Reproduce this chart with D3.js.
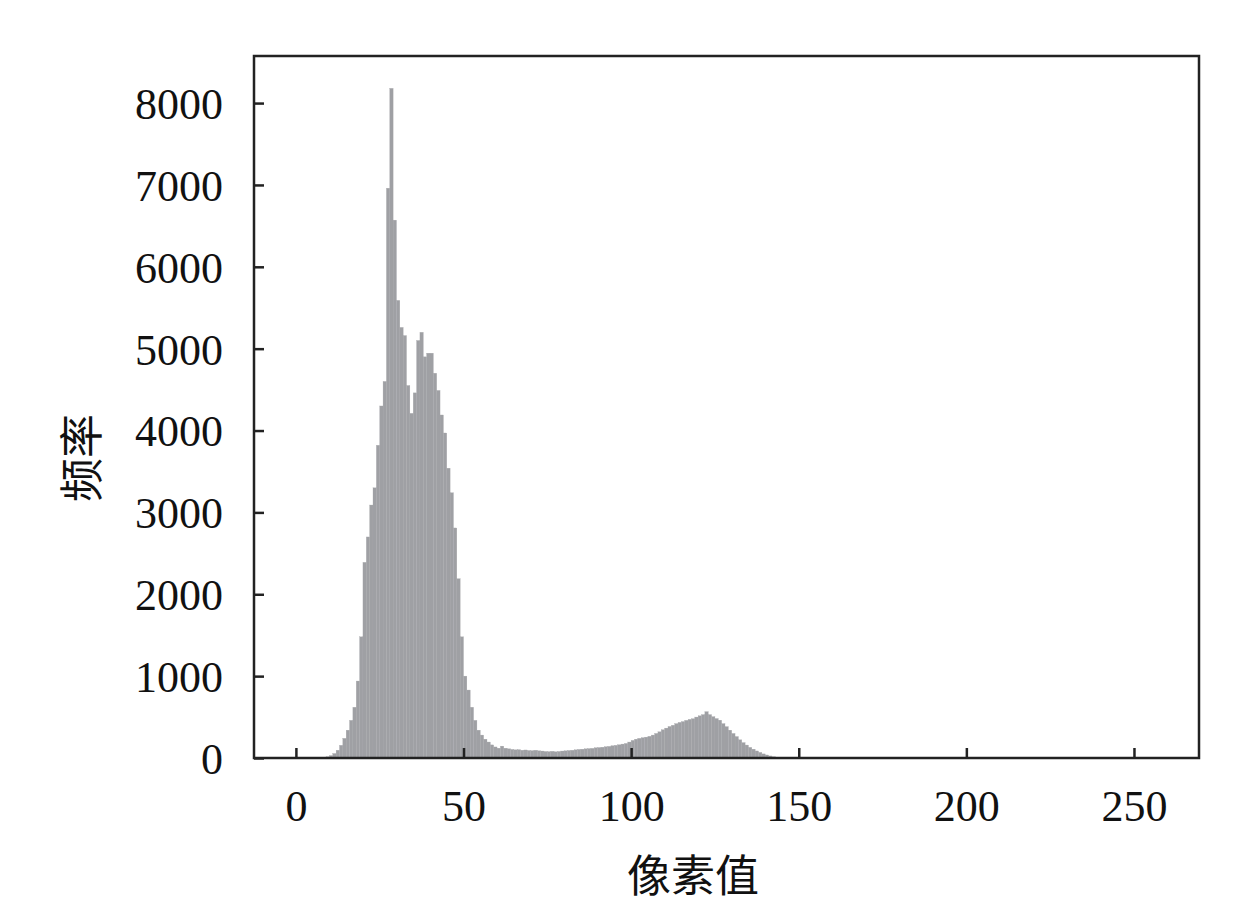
<!DOCTYPE html>
<html>
<head>
<meta charset="utf-8">
<script src="https://cdn.jsdelivr.net/npm/d3@7"></script>
<style>
  html, body { margin: 0; padding: 0; background: #fff; }
  svg { display: block; }
</style>
</head>
<body>
<svg id="chart" width="1259" height="905"></svg>
<script>
// Histogram of pixel values: bins 0..255; counts listed for bins firstBin..(firstBin+counts.length-1), others zero
const firstBin = 8;
const counts = [
  5, 15, 30, 55, 95, 155, 240, 340, 460, 620,            // 8-17
  940, 1480, 2390, 2700, 3090, 3300, 3820, 4300, 4600, 6960, // 18-27
  8180, 6570, 5590, 5260, 5160, 4550, 4210, 4460, 5100, 5200, // 28-37
  4900, 4945, 4945, 4700, 4490, 4190, 3970, 3540, 3240, 2810, // 38-47
  2190, 1480, 1000, 830, 620, 460, 340, 280, 230, 195,   // 48-57
  160, 135, 120, 145, 120, 112, 105, 100, 102, 95,       // 58-67
  98, 92, 90, 95, 88, 85, 80, 78, 82, 76,                // 68-77
  80, 85, 88, 92, 95, 100, 105, 108, 112, 115,           // 78-87
  118, 125, 128, 132, 138, 142, 150, 155, 162, 170,      // 88-97
  178, 195, 215, 230, 240, 248, 255, 265, 280, 300,      // 98-107
  320, 345, 365, 385, 400, 420, 435, 445, 460, 472,      // 108-117
  480, 500, 515, 530, 566, 530, 505, 482, 462, 420,      // 118-127
  383, 340, 300, 262, 222, 188, 158, 130, 108, 86,       // 128-137
  68, 50, 37, 25, 16, 9, 4, 2                            // 138-145
];
const binCount = 256;
const xTicks = [0, 50, 100, 150, 200, 250];
const yTicks = [0, 1000, 2000, 3000, 4000, 5000, 6000, 7000, 8000];
const xTitle = "像素值";
const yTitle = "频率";

const data = d3.range(binCount).map(b => ({
  bin: b,
  count: (b >= firstBin && b < firstBin + counts.length) ? counts[b - firstBin] : 0
}));

const margin = { left: 254, top: 56, right: 60, bottom: 147 };
const W = 1259, H = 905;
const iw = W - margin.left - margin.right;
const ih = H - margin.top - margin.bottom;

const svg = d3.select("#chart");
const g = svg.append("g").attr("transform", `translate(${margin.left},${margin.top})`);

const x = d3.scaleLinear().domain([-12.5, 269.4]).range([0, iw]);
const y = d3.scaleLinear().domain([0, 8575]).range([ih, 0]);

g.selectAll("rect.bar")
  .data(data.filter(d => d.count > 0))
  .join("rect")
  .attr("class", "bar")
  .attr("x", d => x(d.bin))
  .attr("width", d => x(d.bin + 1) - x(d.bin))
  .attr("y", d => y(d.count))
  .attr("height", d => y(0) - y(d.count))
  .attr("fill", "#9fa0a4")
  .attr("stroke", "#a5a6aa")
  .attr("stroke-width", 0.3);

const serif = "'Liberation Serif', 'DejaVu Serif', serif";

const xAxis = g.append("g")
  .attr("transform", `translate(0,${ih})`)
  .call(d3.axisBottom(x).tickValues(xTicks).tickSize(-10).tickPadding(32).tickFormat(d3.format("d")));
const yAxis = g.append("g")
  .call(d3.axisLeft(y).tickValues(yTicks).tickSize(-10).tickPadding(31).tickFormat(d3.format("d")));

[xAxis, yAxis].forEach(a => {
  a.select(".domain").remove();
  a.selectAll(".tick line").attr("stroke", "#222").attr("stroke-width", 2.5);
  a.selectAll(".tick text").attr("fill", "#111").style("font-family", serif).style("font-size", "44px");
});
xAxis.selectAll(".tick text").attr("dy", "0.71em");
yAxis.selectAll(".tick text").attr("dy", "0.35em");

// Frame
g.append("rect")
  .attr("x", 0).attr("y", 0).attr("width", iw).attr("height", ih)
  .attr("fill", "none").attr("stroke", "#222").attr("stroke-width", 2.5);

// Titles
svg.append("text")
  .attr("x", 693).attr("y", 892)
  .attr("text-anchor", "middle")
  .style("font-family", "'Noto Sans CJK SC', sans-serif")
  .style("font-size", "44px")
  .attr("fill", "#111")
  .text(xTitle);

svg.append("text")
  .attr("transform", "translate(98,458) rotate(-90)")
  .attr("text-anchor", "middle")
  .style("font-family", "'Noto Sans CJK SC', sans-serif")
  .style("font-size", "44px")
  .attr("fill", "#111")
  .text(yTitle);
</script>
</body>
</html>
